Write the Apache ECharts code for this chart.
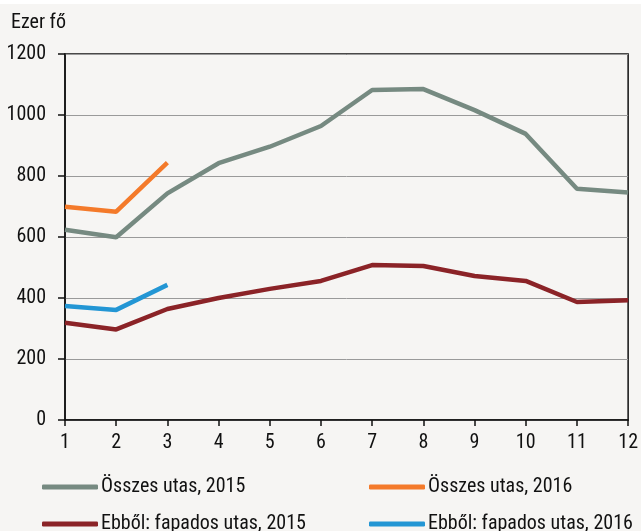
<!DOCTYPE html>
<html>
<head>
<meta charset="utf-8">
<script src="https://cdn.jsdelivr.net/npm/echarts@6/dist/echarts.min.js"></script>
<style>
  html, body { margin: 0; padding: 0; background: #f6f5f3; }
  #chart { width: 641px; height: 531px; }
</style>
</head>
<body>
<div id="chart"></div>
<script>
// honapok
var months = ['1', '2', '3', '4', '5', '6', '7', '8', '9', '10', '11', '12']
var osszes2015 = [624, 599, 743, 842, 896, 964, 1082, 1085, 1016, 938, 758, 746]
var osszes2016 = [699, 683, 844]
var fapados2015 = [319, 297, 364, 400, 430, 456, 508, 505, 472, 456, 387, 393]
var fapados2016 = [374, 361, 443]
var yTicks = [0, 200, 400, 600, 800, 1000, 1200]

var font = '"Roboto Condensed", "Liberation Sans", Arial, sans-serif'
var chart = echarts.init(document.getElementById('chart'))

function legendAt(name, left, top) {
  return {
    data: [name],
    left: left,
    top: top,
    icon: 'roundRect',
    itemWidth: 56,
    itemHeight: 5,
    itemGap: 0,
    textStyle: { fontFamily: font, fontSize: 20, color: '#111', padding: [0, 0, 0, -2] }
  }
}

function line(name, data, color) {
  return {
    name: name,
    type: 'line',
    data: data,
    symbol: 'none',
    lineStyle: { width: 4.5, color: color },
    itemStyle: { color: color },
    animation: false
  }
}

chart.setOption({
  backgroundColor: '#f6f5f3',
  graphic: [
    { type: 'rect', left: 0, top: 0, shape: { width: 641, height: 4 }, style: { fill: '#ffffff' } },
    { type: 'text', left: 11, top: 13, style: { text: 'Ezer fő', font: '20px ' + font, fill: '#111' } }
  ],
  grid: {
    left: 65, right: 11, top: 54, bottom: 111,
    show: true, borderColor: '#111', borderWidth: 1.5, backgroundColor: 'transparent'
  },
  legend: [
    legendAt('Összes utas, 2015', 37, 472),
    legendAt('Összes utas, 2016', 364, 472),
    legendAt('Ebből: fapados utas, 2015', 37, 509),
    legendAt('Ebből: fapados utas, 2016', 364, 509)
  ],
  xAxis: {
    type: 'category',
    data: months,
    boundaryGap: false,
    axisLine: { lineStyle: { color: '#111', width: 1.5 } },
    axisTick: { show: true, length: 6, lineStyle: { color: '#111', width: 1.5 } },
    axisLabel: { fontFamily: font, fontSize: 20, color: '#111', margin: 13 },
    splitLine: { show: false }
  },
  yAxis: {
    type: 'value',
    min: yTicks[0],
    max: yTicks[yTicks.length - 1],
    interval: 200,
    axisLine: { show: true, lineStyle: { color: '#111', width: 1.5 } },
    axisTick: { show: true, length: 7, lineStyle: { color: '#111', width: 1.5 } },
    axisLabel: { fontFamily: font, fontSize: 20, color: '#111', margin: 19, formatter: function (v) { return String(v) } },
    splitLine: { show: true, lineStyle: { color: '#9a9a9a', width: 1 } }
  },
  series: [
    line('Összes utas, 2015', osszes2015, '#768a81'),
    line('Összes utas, 2016', osszes2016, '#f47a2a'),
    line('Ebből: fapados utas, 2015', fapados2015, '#8b2327'),
    line('Ebből: fapados utas, 2016', fapados2016, '#2396d4')
  ]
})
</script>
</body>
</html>
